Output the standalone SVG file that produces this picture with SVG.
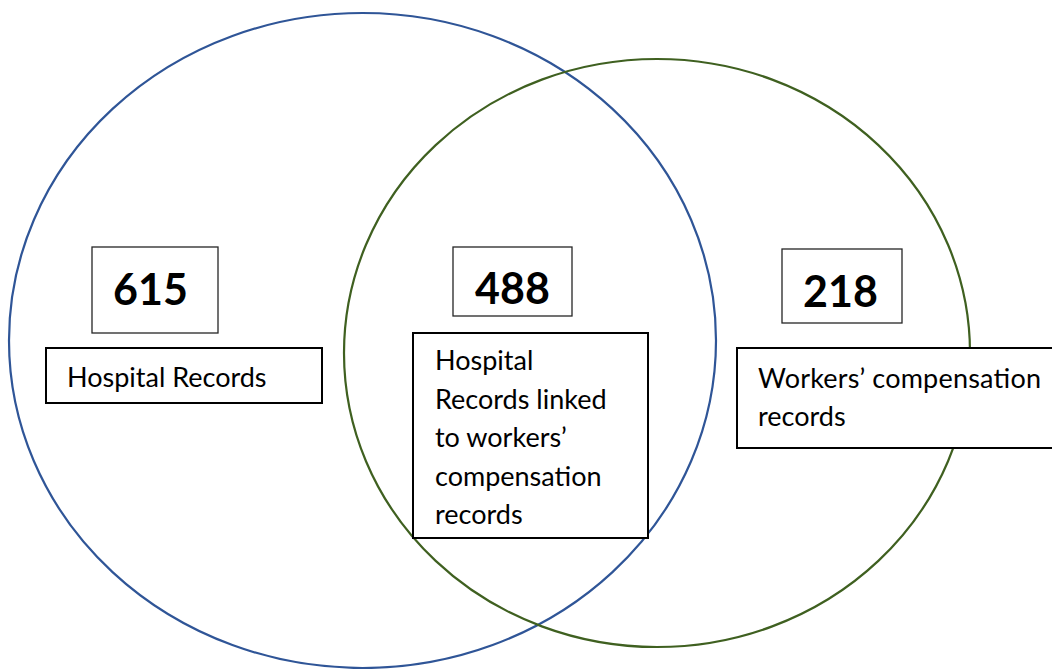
<svg xmlns="http://www.w3.org/2000/svg" width="1052" height="669" viewBox="0 0 1052 669">
<style>
.bg{fill:#ffffff}
.circ{fill:none;stroke-width:2.2}
.num-box{fill:#ffffff;stroke:#262626;stroke-width:1.3}
.lbl-box{fill:#ffffff;stroke:#000000;stroke-width:2}
.num{font-family:Lato,"Open Sans",sans-serif;font-weight:bold;font-size:43px;fill:#000}
.lbl{font-family:Lato,"Open Sans",sans-serif;font-size:27px;fill:#000}
</style>
<rect class="bg" x="0" y="0" width="1052" height="669"/>
<g id="circles">
<ellipse id="hospital-circle" class="circ" cx="362.5" cy="340.5" rx="353.5" ry="327.5" stroke="#2f5597"/>
<ellipse id="wc-circle" class="circ" cx="657" cy="353" rx="313" ry="294" stroke="#3f6020"/>
</g>
<g id="connectors"></g>
<g id="n615">
<rect class="num-box" x="92" y="247" width="126" height="86"/>
<text class="num" x="113" y="305">615</text>
</g>
<g id="hospital-label">
<rect class="lbl-box" x="46" y="348" width="276" height="55"/>
<text class="lbl" x="67" y="387">Hospital Records</text>
</g>
<g id="n488">
<rect class="num-box" x="453" y="247" width="119" height="69"/>
<text class="num" x="475" y="304">488</text>
</g>
<g id="linked-label">
<rect class="lbl-box" x="413" y="333" width="235" height="205"/>
<text class="lbl" x="435" y="370">Hospital</text>
<text class="lbl" x="435" y="408.5">Records linked</text>
<text class="lbl" x="435" y="447">to workers’</text>
<text class="lbl" x="435" y="485.5">compensation</text>
<text class="lbl" x="435" y="524">records</text>
</g>
<g id="n218">
<rect class="num-box" x="782" y="249" width="120" height="74"/>
<text class="num" x="803" y="307">218</text>
</g>
<g id="wc-label">
<rect class="lbl-box" x="737" y="348" width="320" height="100"/>
<text class="lbl" x="758" y="388" textLength="283" lengthAdjust="spacing">Workers’ compensation</text>
<text class="lbl" x="758" y="426">records</text>
</g>
</svg>
